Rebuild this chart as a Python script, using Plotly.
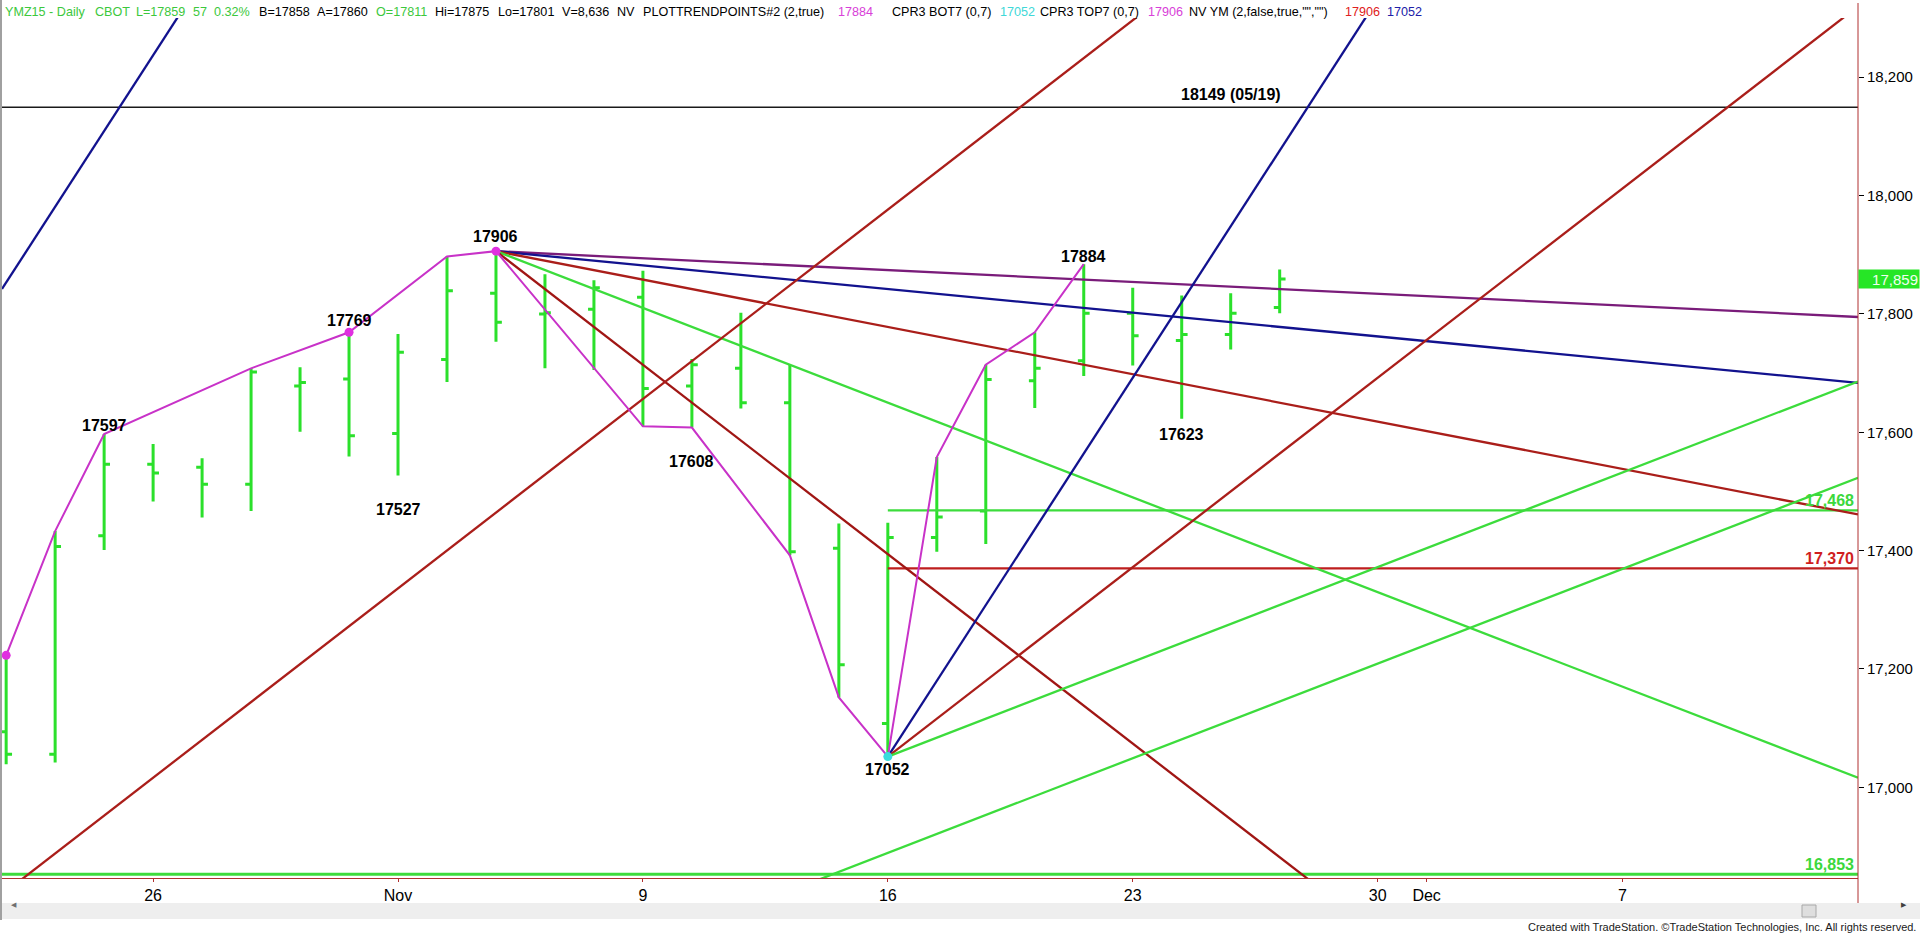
import plotly.graph_objects as go

# ---- Daily bars, YM Dec-15 (x = trading-day index, 0 = Oct 21 2015) ----
bar_idx = list(range(27))
bar_open = [17094, 17056, 17425, 17546, 17541, 17512, 17678, 17690, 17598, 17723,
            17835, 17800, 17808, 17828, 17678, 17708, 17650, 17404, 17108, 17422,
            17467, 17687, 17721, 17801, 17755, 17765, 17811]
bar_high = [17223, 17433, 17597, 17580, 17556, 17708, 17710, 17769, 17766, 17897,
            17906, 17867, 17857, 17873, 17724, 17802, 17714, 17446, 17447, 17558,
            17714, 17769, 17884, 17844, 17831, 17835, 17875]
bar_low = [17039, 17042, 17401, 17483, 17456, 17467, 17601, 17559, 17527, 17685,
           17753, 17708, 17705, 17610, 17608, 17640, 17392, 17152, 17052, 17398,
           17411, 17641, 17695, 17713, 17623, 17740, 17801]
bar_close = [17056, 17407, 17546, 17531, 17512, 17702, 17684, 17594, 17735, 17839,
             17786, 17802, 17844, 17674, 17714, 17650, 17398, 17207, 17422, 17457,
             17689, 17708, 17801, 17763, 17765, 17801, 17859]

# swing line vertices (bar index, H = high / L = low)
swing_idx = [0, 1, 2, 5, 7, 9, 10, 13, 14, 16, 17, 18, 19, 20, 21, 22]
swing_side = ["H", "H", "H", "H", "H", "H", "H", "L", "L", "L", "L", "L", "H", "H", "H", "H"]

# labelled pivots: (bar index, side, vertical offset in px)
pivot_labels = [(2, "H", 9), (7, "H", 12), (10, "H", 15), (22, "H", 8),
                (8, "L", -34), (14, "L", -34), (18, "L", -13), (24, "L", -16)]
pivot_dots_magenta = [(0, "H"), (7, "H"), (10, "H")]
pivot_dots_cyan = [(18, "L")]

# Gann fans: anchor bar, anchor side, slopes (points per bar)
fan_high = (10, "H", [-4, -8, -16, -32, -64])
fan_low = (18, "L", [128, 64, 32])
# parallel angle lines: (bar index, price, slope)
parallel_lines = [(0.0, 17853, 128), (0.45, 16853, 64), (16.87, 16853, 32)]

# horizontal levels
level_high_text = 18149
level_high_date = "05/19"
level_50 = 17468
level_618 = 17370
level_support = 16853
level_start_idx = 18

# axis ticks
x_tick_idx = [3, 8, 13, 18, 23, 28, 29, 33]
x_tick_text = ["26", "Nov", "9", "16", "23", "30", "Dec", "7"]
y_tick_vals = [17000, 17200, 17400, 17600, 17800, 18000, 18200]

X_MIN, X_MAX = -0.085, 37.807
Y_MIN, Y_MAX = 16846.8, 18300

# colours
GREEN_BAR = "#2BE02B"
GREEN = "#3CDC3C"
RED = "#AA1E1A"
NAVY = "#12128E"
PURPLE = "#7A1C7A"
MAGENTA = "#C832C8"
FONT = "Liberation Sans, Arial, sans-serif"
LW = 2.3

# page geometry (pixels)
W, H = 1920, 934
L_PX, R_PX, T_PX, B_PX = 2, 1858, 18, 878


def px_x(p):
    return (p - L_PX) / (R_PX - L_PX)


def px_y(p):
    return (B_PX - p) / (B_PX - T_PX)


def price(i, side):
    return bar_high[i] if side == "H" else bar_low[i]


fig = go.Figure()

# bars
fig.add_trace(go.Ohlc(
    x=bar_idx, open=bar_open, high=bar_high, low=bar_low, close=bar_close,
    increasing=dict(line=dict(color=GREEN_BAR, width=3)),
    decreasing=dict(line=dict(color=GREEN_BAR, width=3)),
    tickwidth=0.12, hoverinfo="skip", showlegend=False,
))


def add_line(xs, ys, color, width=LW):
    fig.add_trace(go.Scatter(x=xs, y=ys, mode="lines", line=dict(color=color, width=width),
                             hoverinfo="skip", showlegend=False))


# horizontal levels
add_line([X_MIN, X_MAX], [level_high_text] * 2, "#1A1A1A", 1.5)
add_line([X_MIN, X_MAX], [level_support] * 2, GREEN, 3)
add_line([level_start_idx, X_MAX], [level_50] * 2, GREEN)
add_line([level_start_idx, X_MAX], [level_618] * 2, "#BE1E1E")

# fan from the swing high
fi, fs, slopes = fan_high
p0 = price(fi, fs)
for s, c in zip(slopes, [PURPLE, NAVY, RED, GREEN, "#A01614"]):
    add_line([fi, X_MAX], [p0, p0 + s * (X_MAX - fi)], c)

# fan from the swing low
fi, fs, slopes = fan_low
p0 = price(fi, fs)
for s, c in zip(slopes, [NAVY, RED, GREEN]):
    add_line([fi, X_MAX], [p0, p0 + s * (X_MAX - fi)], c)

# parallel angle lines
for (xi, pi, s), c in zip(parallel_lines, [NAVY, RED, GREEN]):
    add_line([X_MIN, X_MAX], [pi + s * (X_MIN - xi), pi + s * (X_MAX - xi)], c)

# swing line
add_line(swing_idx, [price(i, s) for i, s in zip(swing_idx, swing_side)], MAGENTA, 2)

# pivot dots
fig.add_trace(go.Scatter(x=[i for i, _ in pivot_dots_magenta],
                         y=[price(i, s) for i, s in pivot_dots_magenta],
                         mode="markers", marker=dict(color="#E030E0", size=9),
                         hoverinfo="skip", showlegend=False, cliponaxis=False))
fig.add_trace(go.Scatter(x=[i for i, _ in pivot_dots_cyan],
                         y=[price(i, s) for i, s in pivot_dots_cyan],
                         mode="markers", marker=dict(color="#3ADCDC", size=9),
                         hoverinfo="skip", showlegend=False))

ann = []
for i, s, dy in pivot_labels:
    ann.append(dict(x=i, y=price(i, s), xref="x", yref="y", text=f"<b>{price(i, s)}</b>",
                    showarrow=False, yshift=dy, xanchor="center", yanchor="middle",
                    font=dict(family=FONT, size=16, color="#000000")))

ann.append(dict(x=25, y=level_high_text, xref="x", yref="y",
                text=f"<b>{level_high_text} ({level_high_date})</b>", showarrow=False,
                yshift=13, font=dict(family=FONT, size=16, color="#000000")))

for lv, col in [(level_50, "#3CD83C"), (level_618, "#D01E1E"), (level_support, "#3CD83C")]:
    ann.append(dict(x=px_x(1856), y=lv, xref="paper", yref="y", text=f"<b>{lv:,}</b>",
                    showarrow=False, xanchor="right", yanchor="middle", yshift=10,
                    font=dict(family=FONT, size=16, color=col)))

# last price box on the axis
ann.append(dict(x=px_x(1858), y=bar_close[-1], xref="paper", yref="y",
                text=f"{bar_close[-1]:,}", showarrow=False, xanchor="left", yanchor="middle",
                bgcolor="#26E626", width=58, height=16, borderpad=1, align="right",
                font=dict(family=FONT, size=15, color="#F0FFF0")))

# header line
header = [
    ("YMZ15 - Daily", 3.3, "#3CC83C"), ("CBOT", 92.7, "#3CC83C"),
    (f"L={bar_close[-1]}", 134, "#3CC83C"), ("57", 190.7, "#3CC83C"),
    ("0.32%", 212, "#3CC83C"), ("B=17858", 256.7, "#000000"), ("A=17860", 314.7, "#000000"),
    (f"O={bar_open[-1]}", 374, "#3CC83C"), (f"Hi={bar_high[-1]}", 433, "#000000"),
    (f"Lo={bar_low[-1]}", 496, "#000000"), ("V=8,636", 560, "#000000"),
    ("NV", 615, "#000000"), ("PLOTTRENDPOINTS#2 (2,true)", 641, "#000000"),
    ("17884", 836, "#D840D8"), ("CPR3 BOT7 (0,7)", 890, "#000000"),
    ("17052", 998, "#40D8D8"), ("CPR3 TOP7 (0,7)", 1038, "#000000"),
    ("17906", 1146, "#D840D8"), ('NV YM (2,false,true,"","")', 1187, "#000000"),
    ("17906", 1343, "#E02020"), ("17052", 1385, "#2020A8"),
]
for txt, xp, col in header:
    ann.append(dict(x=px_x(xp), y=px_y(12), xref="paper", yref="paper", text=txt,
                    showarrow=False, xanchor="left", yanchor="middle",
                    font=dict(family=FONT, size=12.6, color=col)))

# scroll bar arrows and footer
ann.append(dict(x=px_x(9), y=px_y(911), xref="paper", yref="paper", text="◀", showarrow=False,
                font=dict(family="DejaVu Sans", size=7, color="#707070")))
ann.append(dict(x=px_x(1909), y=px_y(911), xref="paper", yref="paper", text="▶", showarrow=False,
                font=dict(family="DejaVu Sans", size=7, color="#404040")))
ann.append(dict(x=px_x(1918), y=px_y(927), xref="paper", yref="paper",
                text="Created with TradeStation. ©TradeStation Technologies, Inc. All rights reserved.",
                showarrow=False, xanchor="right", yanchor="middle",
                font=dict(family=FONT, size=11, color="#1A1A1A")))

shapes = [
    # scroll band
    dict(type="rect", xref="paper", yref="paper", x0=px_x(0), x1=px_x(1920),
         y0=px_y(919), y1=px_y(903), fillcolor="#EEEEEE", line=dict(width=0), layer="below"),
    dict(type="rect", xref="paper", yref="paper", x0=px_x(1802), x1=px_x(1816),
         y0=px_y(917), y1=px_y(905), fillcolor="#DEDEDE", line=dict(color="#A8A8A8", width=1)),
    # right axis line
    dict(type="line", xref="paper", yref="paper", x0=1, x1=1, y0=px_y(3), y1=px_y(903),
         line=dict(color="#B03030", width=1)),
    # window border
    dict(type="line", xref="paper", yref="paper", x0=px_x(1), x1=px_x(1), y0=px_y(0), y1=px_y(920),
         line=dict(color="#A0A0A0", width=2)),
]

fig.update_layout(
    width=W, height=H, autosize=False,
    margin=dict(l=L_PX, r=W - R_PX, t=T_PX, b=H - B_PX, pad=0),
    paper_bgcolor="#FFFFFF", plot_bgcolor="#FFFFFF",
    showlegend=False, hovermode=False,
    annotations=ann, shapes=shapes,
    xaxis=dict(range=[X_MIN, X_MAX], rangeslider=dict(visible=False), showgrid=False,
               zeroline=False, showline=True, linecolor="#B03030", linewidth=1,
               tickmode="array", tickvals=x_tick_idx, ticktext=x_tick_text,
               ticks="outside", ticklen=3, tickcolor="#B03030",
               tickfont=dict(family=FONT, size=16, color="#000000")),
    yaxis=dict(range=[Y_MIN, Y_MAX], side="right", showgrid=False, zeroline=False,
               showline=False, tickmode="array", tickvals=y_tick_vals,
               ticktext=[f"{v:,}" for v in y_tick_vals], ticks="outside", ticklen=5,
               tickcolor="#000000", tickfont=dict(family=FONT, size=15, color="#000000")),
)

fig.write_html("out.html", config={"displayModeBar": False})
